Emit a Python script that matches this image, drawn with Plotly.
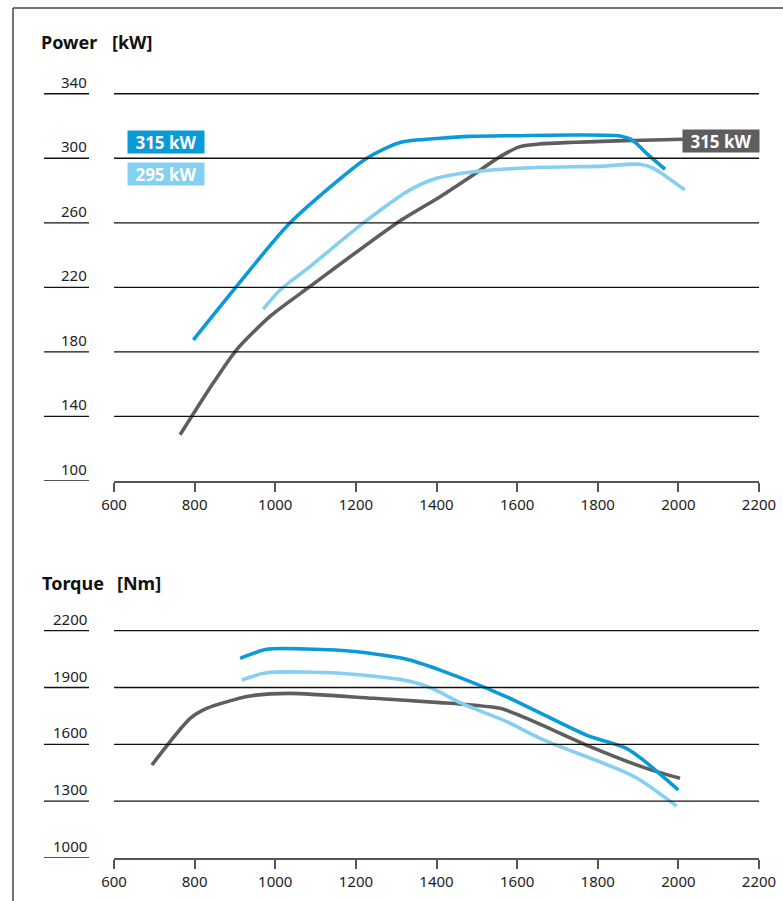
import plotly.graph_objects as go

# ---- Power curves [kW] over engine speed [rpm] ----
pw_blue_rpm = [797, 904, 1037, 1227, 1310, 1409, 1483, 1600, 1740, 1855, 1888, 1921, 1967]
pw_blue_kw = [187.5, 220.6, 260.0, 300.0, 309.8, 312.4, 313.6, 314.0, 314.4, 313.8, 310.9, 303.0, 293.2]

pw_light_rpm = [970, 1012, 1086, 1218, 1334, 1400, 1491, 1657, 1800, 1905, 1938, 2016]
pw_light_kw = [206.5, 218.4, 232.9, 259.8, 280.4, 287.6, 291.7, 294.4, 295.0, 296.3, 293.8, 280.4]

pw_gray_rpm = [764, 846, 904, 987, 1086, 1301, 1409, 1491, 1558, 1607, 1657, 1864, 2012]
pw_gray_kw = [128.7, 160.7, 181.3, 202.0, 220.5, 259.8, 276.2, 289.7, 301.0, 307.2, 308.9, 310.9, 311.8]

# ---- Torque curves [Nm] over engine speed [rpm] ----
tq_blue_rpm = [913, 979, 1078, 1202, 1326, 1409, 1574, 1772, 1871, 1913, 2000]
tq_blue_nm = [2054, 2102, 2103, 2089, 2049, 1992, 1851, 1649, 1579, 1517, 1359]

tq_light_rpm = [917, 979, 1161, 1310, 1367, 1409, 1458, 1574, 1657, 1855, 1905, 1996]
tq_light_nm = [1940, 1978, 1975, 1943, 1913, 1875, 1820, 1720, 1632, 1465, 1412, 1274]

tq_gray_rpm = [694, 789, 830, 937, 1037, 1243, 1409, 1458, 1558, 1624, 1781, 1921, 2004]
tq_gray_nm = [1491, 1737, 1790, 1855, 1869, 1843, 1820, 1813, 1790, 1737, 1588, 1473, 1421]

x_ticks = [600, 800, 1000, 1200, 1400, 1600, 1800, 2000, 2200]
power_ticks = [100, 140, 180, 220, 260, 300, 340]
torque_ticks = [1000, 1300, 1600, 1900, 2200]

label_blue = "315 kW"
label_light = "295 kW"
label_gray = "315 kW"

BLUE = "#0a9ad8"
LIGHT = "#85cff0"
GRAY = "#5e5e5e"
FONT = "Noto Sans"
W, H = 783, 901

fig = go.Figure()

def add_curve(x, y, color, xa, ya):
    fig.add_trace(go.Scatter(
        x=x, y=y, xaxis=xa, yaxis=ya, mode="lines", hoverinfo="skip",
        line=dict(color=color, width=3.6, shape="spline", smoothing=0.7),
        showlegend=False,
    ))

add_curve(pw_gray_rpm, pw_gray_kw, GRAY, "x", "y")
add_curve(pw_light_rpm, pw_light_kw, LIGHT, "x", "y")
add_curve(pw_blue_rpm, pw_blue_kw, BLUE, "x", "y")
add_curve(tq_gray_rpm, tq_gray_nm, GRAY, "x2", "y2")
add_curve(tq_light_rpm, tq_light_nm, LIGHT, "x2", "y2")
add_curve(tq_blue_rpm, tq_blue_nm, BLUE, "x2", "y2")

xdom = [114 / W, 759 / W]
xaxis_style = dict(
    domain=xdom, range=[600, 2200], tickvals=x_ticks, showgrid=False, zeroline=False,
    showline=True, linecolor="#555555", linewidth=2, ticks="outside", ticklen=9,
    tickwidth=1.6, tickcolor="#555555", tickfont=dict(family=FONT, size=15, color="#222222"),
    automargin=False, fixedrange=True,
)

shapes = []
annotations = []

def add_grid(ticks, yref):
    for i, t in enumerate(ticks):
        base = i == 0
        if not base:
            shapes.append(dict(type="line", xref=yref.replace("y", "x"), yref=yref,
                               x0=600, x1=2200, y0=t, y1=t,
                               line=dict(color="#111111", width=1.3)))
        shapes.append(dict(type="line", xref="paper", yref=yref,
                           x0=44 / W, x1=89 / W, y0=t, y1=t,
                           line=dict(color="#555555" if base else "#111111",
                                     width=2 if base else 1.3)))
        annotations.append(dict(xref="paper", yref=yref, x=89 / W, y=t,
                                xanchor="right", yanchor="bottom", yshift=0,
                                text=str(t), showarrow=False,
                                font=dict(family=FONT, size=15, color="#222222")))

add_grid(power_ticks, "y")
add_grid(torque_ticks, "y2")

# Panel titles
for txt, x, y in [("Power", 39, 42), ("[kW]", 110, 42), ("Torque", 40, 583), ("[Nm]", 115, 583)]:
    annotations.append(dict(xref="paper", yref="paper", x=x / W, y=1 - y / H,
                            xanchor="left", yanchor="middle", text=f"<b>{txt}</b>",
                            showarrow=False, font=dict(family=FONT, size=18, color="#111111")))

# Rated-power labels
def add_tag(text, x, y, color):
    annotations.append(dict(xref="x", yref="y", x=x, y=y, text=f"<b>{text}</b>",
                            showarrow=False, bgcolor=color, width=76, height=22,
                            borderpad=0, align="center", xanchor="center", yanchor="middle",
                            font=dict(family=FONT, size=17, color="white")))

add_tag(label_blue, 729, 309.8, BLUE)
add_tag(label_light, 729, 290.0, LIGHT)
add_tag(label_gray, 2106, 311.0, GRAY)

# Outer frame (top and left edges)
shapes.append(dict(type="line", xref="paper", yref="paper", x0=13 / W, x1=1, y0=1 - 8 / H, y1=1 - 8 / H,
                   line=dict(color="#444444", width=1.5)))
shapes.append(dict(type="line", xref="paper", yref="paper", x0=13 / W, x1=13 / W, y0=0, y1=1 - 8 / H,
                   line=dict(color="#444444", width=1.5)))

# Vertical extents: a little headroom above the top gridline so it is not clipped
fig.update_layout(
    width=W, height=H, margin=dict(l=0, r=0, t=0, b=0, pad=0), autosize=False,
    paper_bgcolor="white", plot_bgcolor="white",
    xaxis=dict(anchor="y", **xaxis_style),
    yaxis=dict(domain=[1 - 481 / H, 1 - 90.5 / H], range=[100, 342], visible=False,
               automargin=False, fixedrange=True),
    xaxis2=dict(anchor="y2", **xaxis_style),
    yaxis2=dict(domain=[1 - 858 / H, 1 - 626.9 / H], range=[1000, 2220], visible=False,
                automargin=False, fixedrange=True),
    shapes=shapes, annotations=annotations,
)

fig.write_html("out.html", config={"displayModeBar": False})
